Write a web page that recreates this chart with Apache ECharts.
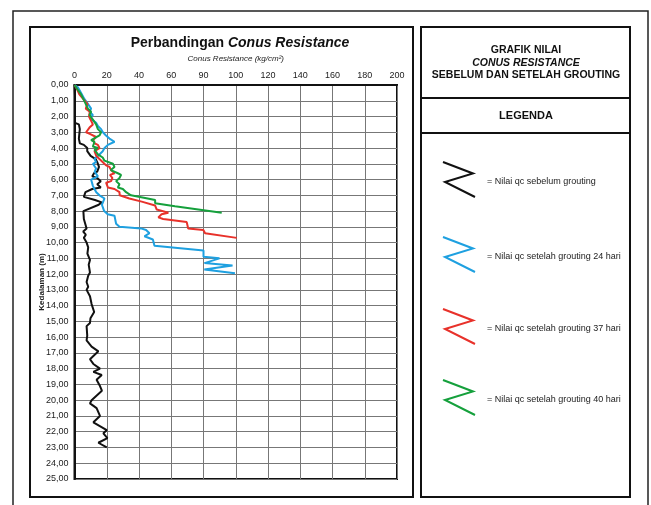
<!DOCTYPE html>
<html>
<head>
<meta charset="utf-8">
<script src="https://cdn.jsdelivr.net/npm/echarts@6/dist/echarts.min.js"></script>
<style>
html,body{margin:0;padding:0;background:#fff;}
#c{width:651px;height:505px;}
</style>
</head>
<body>
<div id="c"></div>
<script>
// ---- tick labels ----
var xTickLabels = ['0','20','40','60','90','100','120','140','160','180','200'];
var yTickLabels = ['0,00','1,00','2,00','3,00','4,00','5,00','6,00','7,00','8,00','9,00','10,00','11,00','12,00','13,00','14,00','15,00','16,00','17,00','18,00','19,00','20,00','21,00','22,00','23,00','24,00','25,00'];

// ---- series: Nilai qc sebelum grouting (black) ----
var blackDepth = [0,0.7,2.4,2.5,2.8,3.4,3.7,3.8,4.0,4.2,4.5,4.7,4.9,5.2,5.5,5.6,5.8,5.9,6.1,6.3,6.5,6.6,6.8,7.1,7.3,7.45,7.6,8.0,8.5,9.1,9.3,9.5,9.7,10.0,10.3,10.7,11.1,11.4,11.9,12.1,12.5,12.8,13.0,13.4,13.9,14.4,14.8,15.1,15.3,15.9,16.2,16.6,16.9,17.4,17.7,18.0,18.2,18.4,18.7,19.1,19.4,19.6,20.0,20.2,20.5,21.0,21.4,21.5,21.9,22.1,22.4,22.7,23.0];
var blackQc = [0,0.3,0.3,2.7,3.3,2.7,3.3,5.8,7.9,7.9,10,13.1,14.1,15.2,14.1,12.1,11,14.1,16.3,14.1,16.3,11,6.8,5.8,12.7,16.9,15,5.5,5.8,7.5,5.4,7,5.8,7.5,8.5,8,9.6,8.8,9.6,8.5,7.5,8.5,7.5,9.6,10.6,12.2,9.9,9.6,7.5,7.9,7.5,10.6,14.8,9.6,11.7,15.8,11.7,16.9,13.7,15.8,17,14.8,10.6,9.6,13.7,15.8,11.7,11.5,20,17.9,20.4,14.8,20];

// ---- series: setelah grouting 24 hari (blue) ----
var blueDepth = [0,0.15,0.5,0.9,1.2,1.5,1.7,1.9,2.1,2.4,2.6,2.8,3.0,3.2,3.4,3.6,3.8,4.0,4.2,4.5,4.7,4.9,5.0,5.3,5.5,5.8,6.0,6.4,6.6,6.8,7.0,7.2,7.6,8.0,8.2,8.3,8.8,9.0,9.1,9.2,9.4,9.6,9.8,10.2,10.5,10.9,11.0,11.3,11.45,11.7,11.95];
var blueQc = [0,2.1,4.1,6.2,8.3,10.3,9.3,11.4,9.5,13.4,14.5,16.5,17.6,19.5,21.7,24.8,20.7,18.6,17.5,14.5,12.4,13.4,11.4,13.4,12.5,14.5,10.3,11.4,12.4,13.5,15.5,18.6,17,18.4,20.6,24.8,25.8,27.9,41.3,44.4,46.5,43.4,48.6,49.6,80,80,89.9,80.6,98,80.5,99.5];

// ---- series: setelah grouting 37 hari (red) ----
var redDepth = [0,0.25,0.6,0.9,1.2,1.5,1.7,2.0,2.5,2.7,3.0,3.1,3.3,3.5,3.7,3.8,4.0,4.2,4.5,4.9,5.1,5.2,5.4,5.6,5.7,5.9,6.1,6.2,6.5,6.6,6.8,7.0,7.2,7.4,7.65,7.9,8.1,8.2,8.4,8.5,8.7,9.1,9.2,9.4,9.7];
var redQc = [0,1.5,3,5.5,8,7,9.5,9,11.4,9.3,7.2,9.5,13.4,11.4,12.5,14.5,15.5,12.4,13.5,17.6,19.6,21.7,22.7,24.8,22,23.5,22.7,19.6,20.7,24.8,27.9,28,34,41.7,50,51,58.2,54,52,55,69.6,70.5,79.9,81,100.6];

// ---- series: setelah grouting 40 hari (green) ----
var greenDepth = [0,0.3,0.6,1.1,1.5,1.7,1.9,2.2,2.5,2.8,3.0,3.2,3.3,3.5,3.6,3.9,4.0,4.1,4.4,4.6,4.8,5.0,5.2,5.4,5.6,5.7,5.9,6.1,6.3,6.5,6.6,6.8,7.0,7.15,7.3,7.5,7.7,7.9,8.1];
var greenQc = [0,2,4.1,6.5,8.3,10.3,9.3,11.4,13.4,14.5,16.5,15.5,14.5,10.3,12.4,11.4,14.5,12.4,14.5,17.5,18.6,23.8,24.8,22.5,26.9,28.9,27.9,25.8,27.9,26.9,30,32,35,43,50,50,62.3,76.8,91.3];

function pairs(q, d){ return q.map(function(v,i){ return [v, d[i]]; }); }

var FONT = 'Liberation Sans, Arial, sans-serif';
var chart = echarts.init(document.getElementById('c'), null, {renderer:'canvas'});

function lineSeries(name, q, d, color){
  return {
    name: name, type: 'line', data: pairs(q, d), showSymbol: false, symbol: 'none',
    lineStyle: {color: color, width: 2}, itemStyle: {color: color},
    animation: false, z: 3
  };
}

var legendItems = [
  {label:'= Nilai qc sebelum grouting', color:'#111111', y:162},
  {label:'= Nilai qc setelah grouting 24 hari', color:'#1ea0e0', y:237},
  {label:'= Nilai qc setelah grouting 37 hari', color:'#e8312a', y:309},
  {label:'= Nilai qc setelah grouting 40 hari', color:'#15a03c', y:380}
];

var graphics = [
  // outer frame
  {type:'rect', shape:{x:13, y:11, width:635, height:500}, style:{fill:'none', stroke:'#222', lineWidth:1.5}, z:0},
  // left panel
  {type:'rect', shape:{x:30, y:27, width:383, height:470}, style:{fill:'none', stroke:'#111', lineWidth:2}, z:0},
  // right panel
  {type:'rect', shape:{x:421, y:27, width:209, height:470}, style:{fill:'none', stroke:'#111', lineWidth:2}, z:0},
  {type:'line', shape:{x1:421, y1:98, x2:630, y2:98}, style:{stroke:'#111', lineWidth:2}},
  {type:'line', shape:{x1:421, y1:133, x2:630, y2:133}, style:{stroke:'#111', lineWidth:2}},
  {type:'text', style:{x:526, y:50, text:'GRAFIK NILAI', font:'bold 10.5px '+FONT, fill:'#111', textAlign:'center', textVerticalAlign:'middle'}},
  {type:'text', style:{x:526, y:63, text:'CONUS RESISTANCE', font:'italic bold 10.5px '+FONT, fill:'#111', textAlign:'center', textVerticalAlign:'middle'}},
  {type:'text', style:{x:526, y:75.5, text:'SEBELUM DAN SETELAH GROUTING', font:'bold 10.5px '+FONT, fill:'#111', textAlign:'center', textVerticalAlign:'middle'}},
  {type:'text', style:{x:526, y:116, text:'LEGENDA', font:'bold 11px '+FONT, fill:'#111', textAlign:'center', textVerticalAlign:'middle'}}
];
legendItems.forEach(function(it){
  graphics.push({type:'polyline', shape:{points:[[443,it.y],[473,it.y+11.5],[445,it.y+20],[475,it.y+35]]}, style:{stroke:it.color, lineWidth:2, fill:'none'}});
  graphics.push({type:'text', style:{x:487, y:it.y+20, text:it.label, font:'9px '+FONT, fill:'#222', textVerticalAlign:'middle'}});
});

chart.setOption({
  backgroundColor: '#fff',
  animation: false,
  title: {
    text: '{a|Perbandingan }{b|Conus Resistance}',
    left: 235, top: 31, textAlign: 'center',
    textStyle: {
      rich: {
        a: {fontFamily: FONT, fontSize: 14, fontWeight: 'bold', color: '#111'},
        b: {fontFamily: FONT, fontSize: 14, fontWeight: 'bold', fontStyle: 'italic', color: '#111'}
      }
    }
  },
  grid: {left: 74.5, top: 85, width: 322.5, height: 394, show: true, borderColor: '#111', borderWidth: 2, backgroundColor: 'transparent'},
  xAxis: {
    type: 'value', position: 'top', min: 0, max: 200, interval: 20,
    name: 'Conus Resistance (kg/cm²)', nameLocation: 'middle', nameGap: 22, nameMoveOverlap: false,
    nameTextStyle: {fontFamily: FONT, fontSize: 8, fontStyle: 'italic', color: '#222'},
    axisLine: {show: true, lineStyle: {color: '#111', width: 2}},
    axisTick: {show: false},
    axisLabel: {fontFamily: FONT, fontSize: 9, color: '#222', margin: 5,
      formatter: function(v){ return xTickLabels[Math.round(v/20)]; }},
    splitLine: {show: true, lineStyle: {color: '#777', width: 1}}
  },
  yAxis: {
    type: 'value', inverse: true, min: 0, max: 25, interval: 1,
    name: 'Kedalaman (m)', nameLocation: 'middle', nameGap: 29, nameRotate: 90, nameMoveOverlap: false,
    nameTextStyle: {fontFamily: FONT, fontSize: 8, fontWeight: 'bold', color: '#222'},
    axisLine: {show: true, lineStyle: {color: '#111', width: 2}},
    axisTick: {show: false},
    axisLabel: {fontFamily: FONT, fontSize: 9, color: '#222', margin: 6,
      formatter: function(v){ return yTickLabels[Math.round(v)]; }},
    splitLine: {show: true, lineStyle: {color: '#777', width: 1}}
  },
  series: [
    lineSeries('Nilai qc sebelum grouting', blackQc, blackDepth, '#111111'),
    lineSeries('Nilai qc setelah grouting 24 hari', blueQc, blueDepth, '#1ea0e0'),
    lineSeries('Nilai qc setelah grouting 37 hari', redQc, redDepth, '#e8312a'),
    lineSeries('Nilai qc setelah grouting 40 hari', greenQc, greenDepth, '#15a03c')
  ],
  graphic: graphics
});
</script>
</body>
</html>
